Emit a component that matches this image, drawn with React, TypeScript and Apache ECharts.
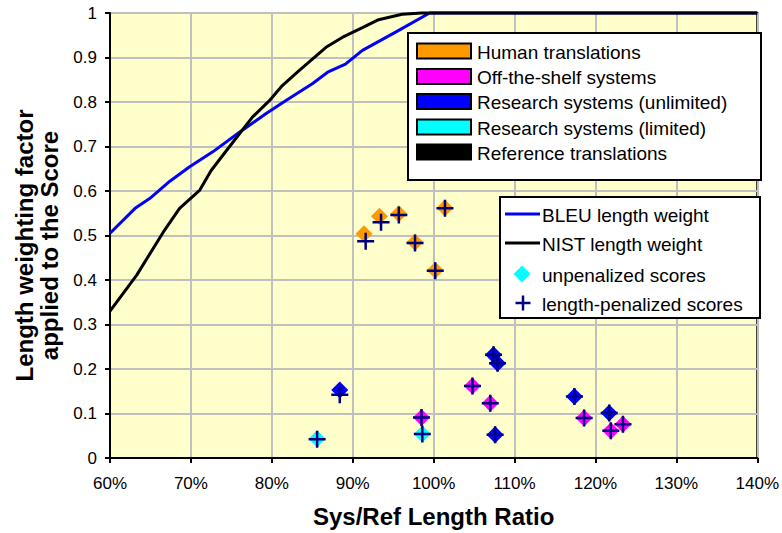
import React, { useEffect, useRef } from "react";
import * as echarts from "echarts";

const FONT = 'Arial, "Liberation Sans", sans-serif';

// Length-weight curves: [Sys/Ref length ratio (%), weight]
const bleuCurve: number[][] = [
  [60, 0.505], [63.1, 0.561], [64.9, 0.583], [67.4, 0.622], [69.8, 0.654],
  [72.7, 0.688], [76.0, 0.732], [79.3, 0.774], [81.7, 0.803], [85.0, 0.841],
  [86.9, 0.867], [89.1, 0.885], [91.2, 0.916], [95.3, 0.957], [99.5, 1.0], [140, 1.0],
];
const nistCurve: number[][] = [
  [60, 0.33], [63.3, 0.411], [66.6, 0.508], [68.6, 0.561], [71.1, 0.602],
  [72.5, 0.646], [74.4, 0.691], [77.6, 0.766], [79.7, 0.803], [81.3, 0.837],
  [83.4, 0.871], [86.7, 0.923], [88.7, 0.945], [91.2, 0.967], [93.2, 0.985],
  [96.1, 0.997], [98.5, 1.0], [140, 1.0],
];

// Unpenalized scores (diamonds)
const humanScores: number[][] = [
  [91.4, 0.504], [93.3, 0.543], [95.7, 0.549], [97.7, 0.485], [100.2, 0.422], [101.4, 0.562],
];
const offShelfScores: number[][] = [
  [98.5, 0.091], [104.8, 0.162], [107.0, 0.123], [118.6, 0.09], [121.9, 0.061], [123.4, 0.076],
];
const researchUnlimitedScores: number[][] = [
  [88.4, 0.153], [107.4, 0.232], [107.9, 0.213], [107.6, 0.052], [117.4, 0.138], [121.7, 0.101],
];
const researchLimitedScores: number[][] = [
  [85.6, 0.043], [98.6, 0.054],
];

// Length-penalized scores (crosses)
const humanPenalized: number[][] = [
  [91.6, 0.487], [93.5, 0.53], [95.7, 0.546], [97.7, 0.483], [100.2, 0.421], [101.4, 0.561],
];
const offShelfPenalized: number[][] = [
  [98.5, 0.091], [104.8, 0.162], [107.0, 0.123], [118.6, 0.09], [121.9, 0.061], [123.4, 0.076],
];
const researchUnlimitedPenalized: number[][] = [
  [88.4, 0.142], [107.4, 0.232], [107.9, 0.213], [107.6, 0.052], [117.4, 0.138], [121.7, 0.101],
];
const researchLimitedPenalized: number[][] = [
  [85.6, 0.042], [98.6, 0.054],
];

const groupNames = [
  "Human translations",
  "Off-the-shelf systems",
  "Research systems (unlimited)",
  "Research systems (limited)",
  "Reference translations",
];
const groupColors = ["#FF9900", "#FF00FF", "#0000FF", "#00FFFF", "#000000"];
const curveNames = ["BLEU length weight", "NIST length weight"];
const markerNames = ["unpenalized scores", "length-penalized scores"];

const PLUS = "path://M8,0 L8,16 M0,8 L16,8";

export default function App() {
  const ref = useRef<HTMLDivElement>(null);
  useEffect(() => {
    if (!ref.current) return;
    const chart = echarts.init(ref.current, null, { renderer: "svg" });

    const txt = (x: number, y: number, text: string) => ({
      type: "text",
      x,
      y,
      style: { text, fill: "#000", font: `19px ${FONT}`, textVerticalAlign: "middle" },
      z: 101,
    });

    const legend1Ys = [51, 76.5, 101.5, 127, 152];
    const legend1: any[] = [
      { type: "rect", shape: { x: 408, y: 33, width: 353, height: 147 }, style: { fill: "#fff", stroke: "#000", lineWidth: 2 }, z: 100 },
    ];
    groupNames.forEach((n, i) => {
      legend1.push({
        type: "rect",
        shape: { x: 417, y: legend1Ys[i] - 7.5, width: 54, height: 15 },
        style: { fill: groupColors[i], stroke: "#000", lineWidth: 2 },
        z: 101,
      });
      legend1.push(txt(477, legend1Ys[i] + 1, n));
    });

    const l2 = [214, 243, 274, 303];
    const legend2: any[] = [
      { type: "rect", shape: { x: 500, y: 197, width: 260, height: 121 }, style: { fill: "#fff", stroke: "#000", lineWidth: 2 }, z: 100 },
      { type: "line", shape: { x1: 505, y1: l2[0], x2: 540, y2: l2[0] }, style: { stroke: "#0000FF", lineWidth: 3 }, z: 101 },
      { type: "line", shape: { x1: 505, y1: l2[1], x2: 540, y2: l2[1] }, style: { stroke: "#000", lineWidth: 3 }, z: 101 },
      {
        type: "polygon",
        shape: { points: [[522, l2[2] - 8.5], [530.5, l2[2]], [522, l2[2] + 8.5], [513.5, l2[2]]] },
        style: { fill: "#00FFFF" },
        z: 101,
      },
      { type: "line", shape: { x1: 515.5, y1: l2[3], x2: 530.5, y2: l2[3] }, style: { stroke: "#000080", lineWidth: 2.5 }, z: 101 },
      { type: "line", shape: { x1: 523, y1: l2[3] - 7.5, x2: 523, y2: l2[3] + 7.5 }, style: { stroke: "#000080", lineWidth: 2.5 }, z: 101 },
      txt(542, l2[0] + 1, curveNames[0]),
      txt(542, l2[1] + 1, curveNames[1]),
      txt(542, l2[2] + 1, markerNames[0]),
      txt(542, l2[3] + 1, markerNames[1]),
    ];

    const diamondSeries = [humanScores, offShelfScores, researchUnlimitedScores, researchLimitedScores].map((d, i) => ({
      name: groupNames[i],
      type: "scatter",
      data: d,
      symbol: "diamond",
      symbolSize: 17,
      itemStyle: { color: groupColors[i], opacity: 1 },
      z: 3,
    }));

    chart.setOption({
      animation: false,
      textStyle: { fontFamily: FONT },
      grid: {
        left: 110,
        right: 21,
        top: 13,
        bottom: 73,
        show: true,
        backgroundColor: "#FFFFCC",
        borderColor: "#000",
        borderWidth: 2,
      },
      xAxis: {
        type: "value",
        min: 60,
        max: 140,
        interval: 10,
        name: "Sys/Ref Length Ratio",
        nameLocation: "middle",
        nameGap: 46,
        nameTextStyle: { fontSize: 24, fontWeight: "bold", color: "#000", fontFamily: FONT },
        axisLine: { show: true, onZero: false, lineStyle: { color: "#000", width: 2 } },
        axisTick: { show: true, length: 5, lineStyle: { color: "#000", width: 2 } },
        axisLabel: { formatter: "{value}%", fontSize: 17, color: "#000", margin: 17, fontFamily: FONT },
        splitLine: { show: true, lineStyle: { color: "#C0C0C0", width: 2 } },
      },
      yAxis: {
        type: "value",
        min: 0,
        max: 1,
        interval: 0.1,
        name: "Length weighting factor\napplied to the Score",
        nameLocation: "middle",
        nameGap: 33,
        nameRotate: 90,
        nameTextStyle: {
          fontSize: 24,
          fontWeight: "bold",
          color: "#000",
          fontFamily: FONT,
          lineHeight: 25,
          padding: [0, 20, 0, 0],
        },
        axisLine: { show: true, onZero: false, lineStyle: { color: "#000", width: 2 } },
        axisTick: { show: true, length: 5, lineStyle: { color: "#000", width: 2 } },
        axisLabel: { fontSize: 17, color: "#000", margin: 13, fontFamily: FONT },
        splitLine: { show: true, lineStyle: { color: "#C0C0C0", width: 2 } },
      },
      graphic: [...legend1, ...legend2],
      series: [
        {
          name: curveNames[0],
          type: "line",
          data: bleuCurve,
          symbol: "none",
          clip: false,
          lineStyle: { color: "#0000FF", width: 3 },
          itemStyle: { color: "#0000FF" },
          z: 2,
        },
        {
          name: curveNames[1],
          type: "line",
          data: nistCurve,
          symbol: "none",
          clip: false,
          lineStyle: { color: "#000", width: 3 },
          itemStyle: { color: "#000" },
          z: 2,
        },
        ...diamondSeries,
        {
          name: markerNames[1],
          type: "scatter",
          data: [...humanPenalized, ...offShelfPenalized, ...researchUnlimitedPenalized, ...researchLimitedPenalized],
          symbol: PLUS,
          symbolSize: 17,
          itemStyle: { color: "rgba(0,0,0,0)", borderColor: "#000080", borderWidth: 2.5, opacity: 1 },
          z: 4,
        },
      ],
    });
    return () => chart.dispose();
  }, []);

  return (
    <div
      ref={ref}
      style={{ position: "fixed", left: 0, top: 0, width: 782, height: 533, background: "#fff" }}
    />
  );
}
